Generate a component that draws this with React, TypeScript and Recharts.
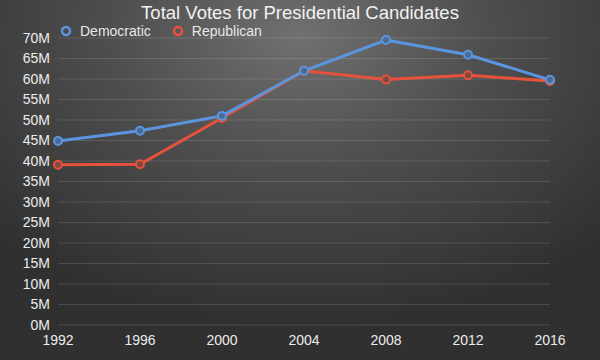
import React from 'react';
import { CartesianGrid, Line, LineChart, XAxis, YAxis } from 'recharts';

const years = ['1992', '1996', '2000', '2004', '2008', '2012', '2016'];
const democratic = [44.9, 47.4, 51.0, 62.0, 69.5, 65.9, 59.8];
const republican = [39.1, 39.2, 50.5, 62.0, 59.9, 60.9, 59.5];
const yTicks = [0, 5, 10, 15, 20, 25, 30, 35, 40, 45, 50, 55, 60, 65, 70];

const BLUE = '#5b95e0';
const RED = '#e8513b';
const FONT = '"Liberation Sans", Arial, sans-serif';

const data = years.map((year, i) => ({
  year,
  Democratic: democratic[i] * 1e6,
  Republican: republican[i] * 1e6,
}));

const legendItems = [
  { name: 'Democratic', color: BLUE },
  { name: 'Republican', color: RED },
];

export default function App() {
  return (
    <div
      style={{
        position: 'absolute',
        left: 0,
        top: 0,
        width: 600,
        height: 360,
        background: 'radial-gradient(ellipse 70% 80% at 50% 10%, #707070 0%, #4e4e4e 45%, #303030 100%)',
      }}
    >
      <div
        style={{
          position: 'absolute',
          top: 2,
          left: 0,
          width: 600,
          textAlign: 'center',
          fontFamily: FONT,
          fontSize: 18.5,
          color: '#f2f2f2',
        }}
      >
        Total Votes for Presidential Candidates
      </div>
      <div
        style={{
          position: 'absolute',
          top: 23,
          left: 60,
          display: 'flex',
          alignItems: 'center',
          fontFamily: FONT,
          fontSize: 14,
          color: '#e8e8e8',
        }}
      >
        {legendItems.map((item) => (
          <span key={item.name} style={{ display: 'flex', alignItems: 'center', marginRight: 21 }}>
            <svg width={12} height={12} style={{ marginRight: 8 }}>
              <circle cx={6} cy={6} r={4} fill="none" stroke={item.color} strokeWidth={2.5} />
            </svg>
            {item.name}
          </span>
        ))}
      </div>
      <LineChart width={600} height={360} data={data} margin={{ top: 38, right: 50, bottom: 10, left: 0 }}>
        <CartesianGrid vertical={false} stroke="rgba(255,255,255,0.13)" />
        <XAxis
          dataKey="year"
          axisLine={false}
          tickLine={false}
          tickMargin={4}
          height={25}
          tick={{ fill: '#ececec', fontSize: 14, fontFamily: FONT }}
        />
        <YAxis
          domain={[0, 70e6]}
          ticks={yTicks.map((t) => t * 1e6)}
          interval={0}
          tickFormatter={(v: number) => `${v / 1e6}M`}
          axisLine={false}
          tickLine={false}
          width={58}
          tick={{ fill: '#ececec', fontSize: 14, fontFamily: FONT }}
        />
        <Line
          dataKey="Republican"
          stroke={RED}
          strokeWidth={3}
          dot={{ r: 4, fill: '#7a4a44', stroke: RED, strokeWidth: 2 }}
          isAnimationActive={false}
        />
        <Line
          dataKey="Democratic"
          stroke={BLUE}
          strokeWidth={3}
          dot={{ r: 4, fill: '#4d6a90', stroke: BLUE, strokeWidth: 2 }}
          isAnimationActive={false}
        />
      </LineChart>
    </div>
  );
}
